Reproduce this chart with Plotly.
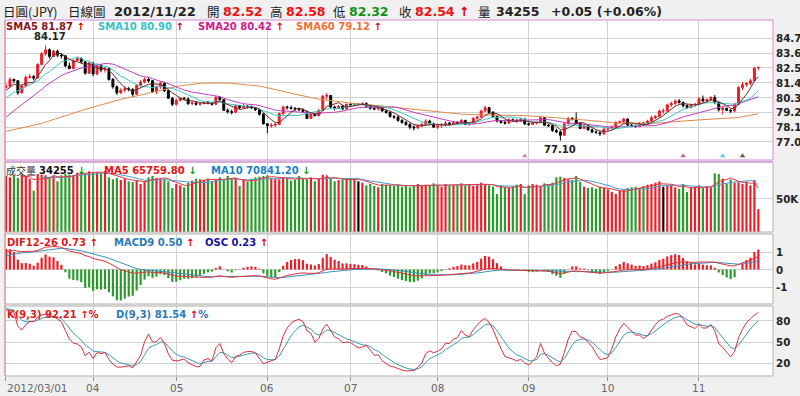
import numpy as np
import pandas as pd
import plotly.graph_objects as go

# ---------------- data ----------------
dates = pd.bdate_range("2012-03-01", "2012-11-22")
month_labels = ["2012/03/01", "04", "05", "06", "07", "08", "09", "10", "11"]
price_ticks = [84.7, 83.6, 82.5, 81.4, 80.3, 79.2, 78.1, 77.0]
price_tick_text = ["84.7", "83.6", "82.5", "81.4", "80.3", "79.2", "78.1", "77.0"]
vol_ticks = [50000]
vol_tick_text = ["50K"]
macd_ticks = [1, 0, -1]
macd_tick_text = ["1", "0", "-1"]
kd_ticks = [80, 50, 20]
kd_tick_text = ["80", "50", "20"]

# closes Dec 2011 - Feb 2012 (used only to warm up the moving averages / indicators)
pre_closes = [
    77.95, 77.95, 77.90, 77.75, 77.75, 77.60, 77.70, 77.80, 77.95, 77.90, 77.95, 77.80, 78.05, 77.85, 77.90, 77.95, 78.05, 78.10, 77.90, 77.85, 77.70, 76.95,
    76.70, 76.75, 76.90, 77.10, 76.95, 76.85, 76.80, 76.70, 76.90, 76.75, 76.95, 76.85, 76.80, 77.00, 77.60, 77.45, 77.70, 77.55, 76.85, 76.70, 76.35, 76.20,
    76.15, 76.20, 76.60, 76.45, 76.75, 76.65, 77.50, 77.55, 77.45, 78.20, 78.40, 78.50, 79.55, 79.60, 79.55, 79.85, 80.10, 80.30, 80.55, 81.10, 81.05,
]

opens = [
    81.05, 81.15, 81.65, 81.55, 80.65, 81.15, 81.80, 81.85, 81.75, 82.75, 83.55, 83.85, 83.35, 83.75, 83.45, 83.40, 82.65, 82.45, 83.05, 83.20, 82.95, 82.10,
    82.85, 82.05, 82.70, 82.35, 82.45, 81.65, 81.10, 80.65, 80.85, 80.95, 80.90, 80.55, 81.20, 81.45, 81.65, 81.55, 80.75, 81.10, 81.35, 80.80, 80.25,
    79.80, 80.10, 80.25, 80.20, 79.85, 79.90, 79.80, 79.85, 79.95, 79.90, 79.80, 80.30, 80.15, 79.35, 79.25, 79.20, 79.70, 79.55, 79.65, 79.60, 79.55, 79.40, 79.05,
    78.35, 78.20, 78.25, 78.30, 79.10, 79.60, 79.55, 79.50, 79.45, 79.40, 79.25, 78.75, 79.05, 78.95, 79.35, 80.40, 80.45, 79.60, 79.50, 79.65, 79.45,
    79.80, 79.75, 79.80, 79.80, 79.85, 79.65, 79.50, 79.45, 79.55, 79.30, 79.20, 78.90, 78.85, 78.60, 78.45, 78.30, 78.10, 78.05, 78.20, 78.30, 78.55, 78.35,
    78.10, 78.20, 78.25, 78.40, 78.30, 78.45, 78.40, 78.60, 78.30, 78.35, 78.75, 78.85, 79.30, 79.55, 79.20, 78.90, 78.55, 78.45, 78.40, 78.65, 78.60, 78.55, 78.70,
    78.35, 78.30, 78.40, 78.45, 78.80, 78.25, 78.20, 77.85, 77.75, 77.50, 78.35, 78.75, 78.70, 78.40, 78.00, 78.20, 77.90, 77.75, 77.70, 77.60,
    77.95, 78.00, 78.10, 78.45, 78.50, 78.70, 78.25, 78.20, 78.15, 78.40, 78.30, 78.55, 78.80, 78.90, 79.30, 79.30, 79.75, 79.85, 80.05, 79.95, 79.70, 79.55, 79.75,
    79.80, 80.20, 80.05, 80.15, 80.30, 79.95, 79.40, 79.50, 79.35, 79.30, 79.80, 81.05, 81.25, 81.35, 81.55, 82.52,
]
highs = [
    81.35, 81.80, 81.70, 81.60, 81.25, 81.95, 82.05, 82.00, 82.85, 83.70, 84.17, 83.95, 83.85, 83.85, 83.60, 83.45, 82.90, 83.15, 83.35, 83.30, 83.00, 82.95,
    82.95, 82.85, 82.80, 82.60, 82.55, 81.75, 81.20, 81.00, 81.15, 81.10, 81.00, 81.30, 81.60, 81.80, 81.80, 81.60, 81.20, 81.50, 81.45, 80.90, 80.35,
    80.20, 80.35, 80.35, 80.30, 80.05, 80.00, 79.95, 80.05, 80.05, 79.95, 80.45, 80.40, 80.20, 79.50, 79.40, 79.80, 79.75, 79.80, 79.75, 79.70, 79.60, 79.45, 79.15,
    78.40, 78.40, 78.45, 79.20, 79.70, 79.70, 79.70, 79.60, 79.55, 79.50, 79.35, 79.15, 79.15, 79.45, 80.50, 80.65, 80.45, 79.70, 79.75, 79.75, 79.85,
    79.90, 79.90, 79.90, 79.95, 79.95, 79.75, 79.60, 79.70, 79.60, 79.40, 79.25, 79.00, 78.95, 78.70, 78.55, 78.40, 78.25, 78.30, 78.45, 78.70, 78.65, 78.45,
    78.35, 78.40, 78.55, 78.50, 78.55, 78.55, 78.70, 78.65, 78.45, 78.85, 78.95, 79.40, 79.70, 79.60, 79.30, 79.00, 78.65, 78.60, 78.75, 78.75, 78.70, 78.80, 78.75,
    78.45, 78.50, 78.55, 78.90, 78.85, 78.35, 78.25, 78.00, 77.85, 78.45, 78.85, 78.85, 79.20, 78.45, 78.30, 78.25, 78.00, 77.85, 77.80, 78.05,
    78.15, 78.25, 78.55, 78.60, 78.80, 78.75, 78.35, 78.30, 78.50, 78.50, 78.65, 78.95, 79.00, 79.40, 79.50, 79.85, 80.00, 80.15, 80.20, 80.00, 79.80, 79.85, 79.90,
    80.35, 80.45, 80.25, 80.40, 80.50, 80.00, 79.60, 79.55, 79.45, 79.90, 81.15, 81.45, 81.45, 81.70, 82.55, 82.58,
]
lows = [
    80.95, 81.05, 81.40, 80.50, 80.60, 81.10, 81.70, 81.60, 81.70, 82.70, 83.40, 83.20, 83.30, 83.30, 83.20, 82.55, 82.40, 82.40, 83.00, 82.85, 82.00, 82.05,
    81.90, 81.95, 82.20, 82.15, 81.55, 80.95, 80.50, 80.55, 80.70, 80.75, 80.35, 80.50, 81.10, 81.35, 81.40, 80.65, 80.55, 80.95, 80.70, 80.20, 79.65,
    79.70, 80.00, 80.10, 79.75, 79.75, 79.70, 79.70, 79.80, 79.80, 79.70, 79.75, 80.05, 79.30, 79.10, 79.05, 79.15, 79.45, 79.50, 79.50, 79.45, 79.30, 78.95, 78.30,
    77.65, 78.05, 78.10, 78.25, 79.00, 79.40, 79.40, 79.30, 79.30, 79.15, 78.70, 78.70, 78.90, 78.90, 79.30, 80.15, 79.50, 79.35, 79.45, 79.35, 79.40,
    79.60, 79.65, 79.70, 79.70, 79.55, 79.40, 79.35, 79.35, 79.25, 79.10, 78.80, 78.70, 78.50, 78.35, 78.20, 77.95, 77.85, 77.95, 78.10, 78.20, 78.25, 78.05,
    77.95, 78.05, 78.15, 78.20, 78.25, 78.30, 78.35, 78.25, 78.20, 78.30, 78.65, 78.80, 79.20, 79.10, 78.85, 78.45, 78.35, 78.30, 78.35, 78.50, 78.45, 78.50, 78.25,
    78.20, 78.25, 78.30, 78.40, 78.20, 78.10, 77.75, 77.65, 77.10, 77.45, 78.30, 78.60, 78.35, 77.95, 77.95, 77.85, 77.65, 77.60, 77.45, 77.55,
    77.80, 77.90, 78.05, 78.35, 78.40, 78.20, 78.10, 78.05, 78.10, 78.20, 78.25, 78.50, 78.70, 78.85, 79.10, 79.25, 79.60, 79.75, 79.85, 79.55, 79.45, 79.50, 79.60,
    79.70, 79.95, 79.90, 80.05, 79.80, 79.25, 79.05, 79.30, 79.15, 79.20, 79.75, 80.85, 81.10, 81.20, 81.50, 82.32,
]
closes = [
    81.15, 81.65, 81.55, 80.65, 81.15, 81.80, 81.85, 81.75, 82.75, 83.55, 83.85, 83.35, 83.75, 83.45, 83.40, 82.65, 82.45, 83.05, 83.20, 82.95, 82.10, 82.85,
    82.05, 82.70, 82.35, 82.45, 81.65, 81.10, 80.65, 80.85, 80.95, 80.90, 80.55, 81.20, 81.45, 81.65, 81.55, 80.75, 81.10, 81.35, 80.80, 80.25, 79.80,
    80.10, 80.25, 80.20, 79.85, 79.90, 79.80, 79.85, 79.95, 79.90, 79.80, 80.30, 80.15, 79.35, 79.25, 79.20, 79.70, 79.55, 79.65, 79.60, 79.55, 79.40, 79.05, 78.35,
    78.20, 78.25, 78.30, 79.10, 79.60, 79.55, 79.50, 79.45, 79.40, 79.25, 78.75, 79.05, 78.95, 79.35, 80.40, 80.45, 79.60, 79.50, 79.65, 79.45, 79.80,
    79.75, 79.80, 79.80, 79.85, 79.65, 79.50, 79.45, 79.55, 79.30, 79.20, 78.90, 78.85, 78.60, 78.45, 78.30, 78.10, 78.05, 78.20, 78.30, 78.55, 78.35, 78.10,
    78.20, 78.25, 78.40, 78.30, 78.45, 78.40, 78.60, 78.30, 78.35, 78.75, 78.85, 79.30, 79.55, 79.20, 78.90, 78.55, 78.45, 78.40, 78.65, 78.60, 78.55, 78.70, 78.35,
    78.30, 78.40, 78.45, 78.80, 78.25, 78.20, 77.85, 77.75, 77.50, 78.35, 78.75, 78.70, 78.40, 78.00, 78.20, 77.90, 77.75, 77.70, 77.60, 77.95,
    78.00, 78.10, 78.45, 78.50, 78.70, 78.25, 78.20, 78.15, 78.40, 78.30, 78.55, 78.80, 78.90, 79.30, 79.30, 79.75, 79.85, 80.05, 79.95, 79.70, 79.55, 79.75, 79.80,
    80.20, 80.05, 80.15, 80.30, 79.95, 79.40, 79.50, 79.35, 79.30, 79.80, 81.05, 81.25, 81.35, 81.55, 82.49, 82.54,
]
volumes = [
    84000, 82000, 85000, 81000, 86000, 83000, 80000, 62000, 87000, 86000, 85000, 83000, 84000, 76000, 85000, 87000, 86000, 85000, 89000, 90000, 88000, 91000,
    89000, 90000, 88000, 91000, 82000, 79000, 81000, 78000, 80000, 76000, 75000, 78000, 72000, 76000, 82000, 84000, 81000, 79000, 80000, 76000, 66000,
    72000, 70000, 67000, 74000, 77000, 80000, 79000, 78000, 80000, 76000, 78000, 82000, 79000, 84000, 80000, 81000, 69000, 78000, 76000, 80000, 82000, 83000, 84000,
    85000, 81000, 80000, 79000, 82000, 80000, 77000, 78000, 84000, 80000, 79000, 82000, 76000, 80000, 86000, 85000, 80000, 76000, 78000, 79000, 80000,
    81000, 79000, 76000, 74000, 70000, 72000, 69000, 67000, 72000, 71000, 70000, 69000, 71000, 68000, 70000, 67000, 69000, 72000, 70000, 71000, 69000, 73000,
    70000, 68000, 72000, 69000, 70000, 71000, 73000, 70000, 72000, 69000, 71000, 74000, 72000, 70000, 68000, 57000, 70000, 67000, 66000, 69000, 71000, 72000, 57000,
    70000, 72000, 71000, 69000, 73000, 71000, 74000, 82000, 83000, 81000, 79000, 78000, 84000, 75000, 68000, 66000, 67000, 65000, 68000, 66000,
    64000, 60000, 57000, 62000, 63000, 66000, 67000, 68000, 66000, 69000, 71000, 72000, 74000, 76000, 68000, 69000, 71000, 67000, 65000, 72000, 60000, 67000, 68000,
    70000, 66000, 68000, 67000, 88000, 87000, 80000, 72000, 79000, 74000, 74613, 72000, 74500, 70000, 78044, 34255,
]
event_idx = [131, 171, 181, 186]
event_colors = ["#c58ac5", "#c060b0", "#5cc8d8", "#7a5050"]
peak_label = "84.17"
trough_label = "77.10"

# ---------------- indicators ----------------
n = len(closes)
idx = np.arange(n)
n_pre = len(pre_closes)
c_all = pd.Series(pre_closes + closes, dtype=float)
h_all = pd.Series(pre_closes + highs, dtype=float)
l_all = pd.Series(pre_closes + lows, dtype=float)


def tail(s):
    return s.iloc[n_pre:].to_numpy()


sma5 = tail(c_all.rolling(5).mean())
sma10 = tail(c_all.rolling(10).mean())
sma20 = tail(c_all.rolling(20).mean())
sma60 = tail(c_all.rolling(60).mean())
dif_all = c_all.ewm(span=12, adjust=False).mean() - c_all.ewm(span=26, adjust=False).mean()
dea_all = dif_all.ewm(span=9, adjust=False).mean()
dif = tail(dif_all)
dea = tail(dea_all)
osc = dif - dea
h9 = h_all.rolling(9, min_periods=1).max()
l9 = l_all.rolling(9, min_periods=1).min()
rsv = ((c_all - l9) / (h9 - l9).replace(0, np.nan) * 100).fillna(50)
kv, dv = [], []
k = d = 50.0
for r in rsv:
    k = k * 2 / 3 + r / 3
    d = d * 2 / 3 + k / 3
    kv.append(k)
    dv.append(d)
K = np.array(kv)[n_pre:]
D = np.array(dv)[n_pre:]
vol_s = pd.Series(volumes, dtype=float)
vma5 = vol_s.rolling(5).mean().to_numpy()
vma10 = vol_s.rolling(10).mean().to_numpy()

month_idx = [i for i in range(n) if i == 0 or dates[i].month != dates[i - 1].month]

# ---------------- styling / geometry ----------------
W, H = 800, 396
X0, X1 = 5, 773
P_PRICE, P_VOL, P_MACD, P_KD = (20, 160), (162, 232), (234, 304), (306, 376)
RED, GREEN, BLACK = "#ee1c25", "#2b9a2b", "#000000"
GRID = "#d2d2d2"
NUMF = "DejaVu Sans"
CJK = "Noto Sans CJK TC"


def px(x):
    return x / W


def py(y):
    return 1 - y / H


def dom(p):
    return [py(p[1]), py(p[0])]


up = np.array(closes) > np.array(opens)
dn = np.array(closes) < np.array(opens)
vol_colors = [RED if u else (GREEN if dd else BLACK) for u, dd in zip(up, dn)]
osc_colors = [RED if v >= 0 else GREEN for v in osc]

fig = go.Figure()
fig.add_trace(go.Candlestick(
    x=idx, open=opens, high=highs, low=lows, close=closes,
    increasing=dict(line=dict(color=RED, width=1), fillcolor=RED),
    decreasing=dict(line=dict(color=BLACK, width=1), fillcolor=BLACK),
    whiskerwidth=0, xaxis="x", yaxis="y", hoverinfo="skip", showlegend=False))
for s, col in [(sma60, "#e0894a"), (sma20, "#c23ec2"), (sma10, "#3cc8c8"), (sma5, "#6b2b2b")]:
    fig.add_trace(go.Scatter(x=idx, y=s, mode="lines", line=dict(color=col, width=1),
                             xaxis="x", yaxis="y", hoverinfo="skip"))
fig.add_trace(go.Scatter(x=event_idx, y=[75.95] * len(event_idx), mode="markers",
                         marker=dict(symbol="triangle-up", size=5, color=event_colors),
                         xaxis="x", yaxis="y", hoverinfo="skip"))

fig.add_trace(go.Bar(x=idx, y=volumes, marker=dict(color=vol_colors, line=dict(width=0)),
                     width=0.55, xaxis="x2", yaxis="y2", hoverinfo="skip"))
fig.add_trace(go.Scatter(x=idx, y=vma10, mode="lines", line=dict(color="#4a9ad4", width=1),
                         xaxis="x2", yaxis="y2", hoverinfo="skip"))
fig.add_trace(go.Scatter(x=idx, y=vma5, mode="lines", line=dict(color="#e8383e", width=1),
                         xaxis="x2", yaxis="y2", hoverinfo="skip"))

fig.add_trace(go.Bar(x=idx, y=osc, marker=dict(color=osc_colors, line=dict(width=0)),
                     width=0.55, xaxis="x3", yaxis="y3", hoverinfo="skip"))
fig.add_trace(go.Scatter(x=idx, y=dea, mode="lines", line=dict(color="#3a8fc0", width=1),
                         xaxis="x3", yaxis="y5", hoverinfo="skip"))
fig.add_trace(go.Scatter(x=idx, y=dif, mode="lines", line=dict(color="#e0303a", width=1),
                         xaxis="x3", yaxis="y5", hoverinfo="skip"))

fig.add_trace(go.Scatter(x=idx, y=D, mode="lines", line=dict(color="#3a98b8", width=1),
                         xaxis="x4", yaxis="y4", hoverinfo="skip"))
fig.add_trace(go.Scatter(x=idx, y=K, mode="lines", line=dict(color="#d8303e", width=1),
                         xaxis="x4", yaxis="y4", hoverinfo="skip"))

xr = [-0.25, 193.7]
xcommon = dict(range=xr, domain=[px(X0), px(X1)], tickmode="array", tickvals=month_idx,
               showticklabels=False, showgrid=True, gridcolor=GRID, gridwidth=1,
               zeroline=False, showline=False, fixedrange=True)
ycommon = dict(side="right", showgrid=True, gridcolor=GRID, gridwidth=1, zeroline=False,
               showline=False, ticks="", showticklabels=False, tickmode="array", fixedrange=True)

osc_scale = np.nanmax(np.abs(osc)) / 1.77
macd_range = [-1.97, 2.03]
price_range = [75.66, 86.06]
vol_range = [0, 105000]
kd_range = [2, 101]

fig.update_layout(
    width=W, height=H, margin=dict(l=0, r=0, t=0, b=0),
    paper_bgcolor="#f0f0f0", plot_bgcolor="#ffffff", showlegend=False,
    xaxis=dict(xcommon, anchor="y", rangeslider=dict(visible=False), ticks=""),
    xaxis2=dict(xcommon, anchor="y2", ticks=""),
    xaxis3=dict(xcommon, anchor="y3", ticks=""),
    xaxis4=dict(xcommon, anchor="y4", ticks="outside", ticklen=4, tickcolor="#999999"),
    yaxis=dict(ycommon, anchor="x", domain=dom(P_PRICE), range=price_range, tickvals=price_ticks),
    yaxis2=dict(ycommon, anchor="x2", domain=dom(P_VOL), range=vol_range, tickvals=vol_ticks),
    yaxis3=dict(anchor="x3", domain=dom(P_MACD), range=[macd_range[0] * osc_scale, macd_range[1] * osc_scale],
                showgrid=False, zeroline=False, showticklabels=False, ticks="", fixedrange=True),
    yaxis5=dict(ycommon, anchor="x3", overlaying="y3", range=macd_range, tickvals=macd_ticks),
    yaxis4=dict(ycommon, anchor="x4", domain=dom(P_KD), range=kd_range, tickvals=kd_ticks),
)

# panel borders
shapes = []
for p, col in [(P_PRICE, "#d68ad6"), (P_VOL, "#b0b0b0"), (P_MACD, "#b0b0b0"), (P_KD, "#b0b0b0")]:
    shapes.append(dict(type="rect", xref="paper", yref="paper", x0=px(X0), x1=px(X1),
                       y0=py(p[1]), y1=py(p[0]), line=dict(color=col, width=1), layer="above"))
shapes.append(dict(type="line", xref="paper", yref="paper", x0=px(X0), x1=px(X1),
                   y0=py(P_VOL[0]), y1=py(P_VOL[0]), line=dict(color="#d68ad6", width=1)))
shapes.append(dict(type="line", xref="paper", yref="paper", x0=px(X0), x1=px(X0),
                   y0=py(P_KD[1]), y1=py(P_PRICE[0]), line=dict(color="#e49090", width=1), layer="above"))
fig.update_layout(shapes=shapes)

ann = []


def txt(x, y, text, size=10, color="#222222", bold=True, family=NUMF, anchor="left"):
    ann.append(dict(xref="paper", yref="paper", x=px(x), y=py(y), text=text, showarrow=False,
                    xanchor=anchor, yanchor="middle", borderpad=0,
                    font=dict(family=family, size=size, color=color, weight="bold" if bold else "normal")))


# right-hand tick labels
for vals, texts, yref in [(price_ticks, price_tick_text, "y"), (vol_ticks, vol_tick_text, "y2"),
                          (macd_ticks, macd_tick_text, "y5"), (kd_ticks, kd_tick_text, "y4")]:
    for v, t in zip(vals, texts):
        ann.append(dict(xref="paper", yref=yref, x=px(775), y=v, text=t, showarrow=False,
                        xanchor="left", yanchor="middle", borderpad=0,
                        font=dict(family=NUMF, size=10.3, color="#222222", weight="bold")))

ARW = "<span style='color:#e00000'>↑</span>"
ARD = "<span style='color:#109a10'>↓</span>"
# header
txt(2, 11, "日圓(JPY)", 12.5, "#222222", False, CJK)
txt(67, 11, "日線圖", 12.5, "#222222", False, CJK)
txt(113, 11, "2012/11/22", 13, "#222222")
txt(206, 11, "開", 12.5, "#222222", False, CJK)
txt(222, 11, "82.52", 12.5, "#ee1111")
txt(269, 11, "高", 12.5, "#222222", False, CJK)
txt(285, 11, "82.58", 12.5, "#ee1111")
txt(332, 11, "低", 12.5, "#222222", False, CJK)
txt(348, 11, "82.32", 12.5, "#11931a")
txt(398, 11, "收", 12.5, "#222222", False, CJK)
txt(414, 11, "82.54 " + ARW, 12.5, "#ee1111")
txt(477, 11, "量", 12.5, "#222222", False, CJK)
txt(495, 11, "34255", 12.5, "#222222")
txt(550, 11, "+0.05 (+0.06%)", 12.5, "#222222")
# price legend
txt(5, 27, "SMA5 81.87 " + ARW, 10, "#8b1414")
txt(97, 27, "SMA10 80.90 " + ARW, 10, "#33c4c4")
txt(197, 27, "SMA20 80.42 " + ARW, 10, "#d0188c")
txt(295, 27, "SMA60 79.12 " + ARW, 10, "#f07030")
# volume legend
txt(5, 170, "成交量", 10, "#333333", False, CJK)
txt(38, 170, "34255 " + ARD, 10, "#111111")
txt(103, 170, "MA5 65759.80 " + ARD, 10, "#ee1111")
txt(210, 170, "MA10 70841.20 " + ARD, 10, "#1e7fc8")
# macd legend
txt(6, 242, "DIF12-26 0.73 " + ARW, 10, "#e01818")
txt(113, 242, "MACD9 0.50 " + ARW, 10, "#2a7ab8")
txt(204, 242, "OSC 0.23 " + ARW, 10, "#1414a0")
# kd legend
txt(6, 314, "K(9,3) 92.21 ↑%", 10, "#e01818")
txt(115, 314, "D(9,3) 81.54 " + ARW + "%", 10, "#2a7ab8")

# high / low labels
imax = int(np.argmax(highs))
imin = int(np.argmin(lows))
ann.append(dict(xref="x", yref="y", x=imax + 1, y=highs[imax], text=peak_label, showarrow=False,
                xanchor="center", yanchor="bottom", yshift=1,
                font=dict(family=NUMF, size=10, color="#222222", weight="bold")))
ann.append(dict(xref="x", yref="y", x=imin, y=lows[imin], text=trough_label, showarrow=False,
                xanchor="center", yanchor="top", yshift=-1,
                font=dict(family=NUMF, size=10, color="#222222", weight="bold")))

# month labels
for j, (i, lab) in enumerate(zip(month_idx, month_labels)):
    ann.append(dict(xref="x4", yref="paper", x=i, y=py(388), text=lab, showarrow=False,
                    xanchor="left" if j == 0 else "center", yanchor="middle",
                    xshift=-1 if j == 0 else 0,
                    font=dict(family=NUMF, size=10.5, color="#666666")))
fig.update_layout(annotations=ann)

fig.write_html("out.html", config={"displayModeBar": False, "staticPlot": True},
               post_script="document.body.style.margin='0';document.body.style.overflow='hidden';")
